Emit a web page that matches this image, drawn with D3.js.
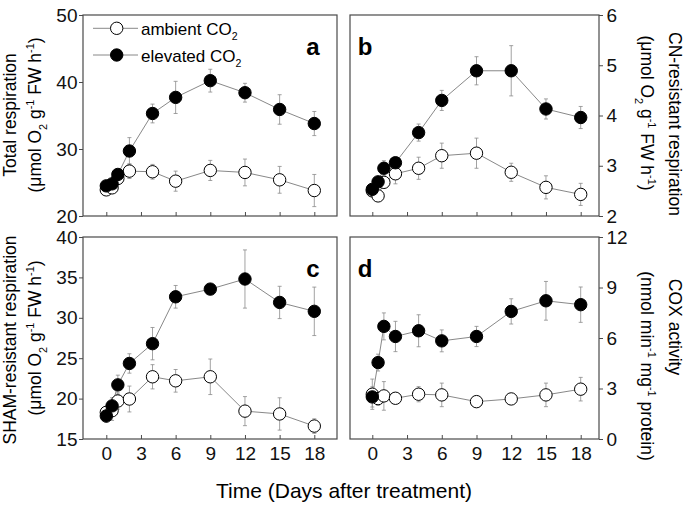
<!DOCTYPE html>
<html><head><meta charset="utf-8">
<script src="https://cdn.jsdelivr.net/npm/d3@7"></script>
<style>
html,body{margin:0;padding:0;background:#fff;}
svg{display:block;font-family:"Liberation Sans",Arial,sans-serif;}
</style></head>
<body>
<svg id="chart" width="685" height="508"></svg>
<script>
// ---------- data ----------
const days = [0, 0.5, 1, 2, 4, 6, 9, 12, 15, 18];
const xTicks = [0, 3, 6, 9, 12, 15, 18];

const totalAmb     = [23.9, 24.2, 25.6, 26.7, 26.6, 25.2, 26.8, 26.5, 25.4, 23.8];
const totalAmbErr  = [0.5, 0.6, 0.6, 1.1, 1.1, 1.5, 1.5, 2.0, 2.0, 2.4];
const totalElev    = [24.5, 24.8, 26.2, 29.7, 35.3, 37.7, 40.2, 38.4, 35.9, 33.8];
const totalElevErr = [0.5, 0.5, 0.6, 2.0, 1.4, 2.4, 1.7, 1.4, 2.2, 1.8];
const totalTicks   = [20, 30, 40, 50];

const cnAmb     = [2.5, 2.40, 2.67, 2.84, 2.95, 3.20, 3.25, 2.87, 2.57, 2.43];
const cnAmbErr  = [0.08, 0.1, 0.1, 0.2, 0.22, 0.25, 0.3, 0.18, 0.23, 0.22];
const cnElev    = [2.53, 2.68, 2.95, 3.06, 3.66, 4.30, 4.89, 4.89, 4.13, 3.96];
const cnElevErr = [0.05, 0.08, 0.15, 0.1, 0.17, 0.2, 0.28, 0.5, 0.2, 0.22];
const cnTicks   = [2, 3, 4, 5, 6];

const shamAmb     = [18.3, 18.5, 19.7, 19.95, 22.7, 22.2, 22.7, 18.45, 18.1, 16.6];
const shamAmbErr  = [0.6, 1.2, 1.0, 1.6, 1.5, 1.4, 2.2, 1.8, 2.0, 0.9];
const shamElev    = [17.85, 19.1, 21.7, 24.35, 26.8, 32.6, 33.55, 34.8, 31.9, 30.8];
const shamElevErr = [0.8, 1.0, 1.2, 1.2, 2.0, 1.4, 0.6, 3.6, 2.0, 3.0];
const shamTicks   = [15, 20, 25, 30, 35, 40];

const coxAmb     = [2.66, 2.4, 2.56, 2.42, 2.66, 2.62, 2.22, 2.38, 2.62, 2.96];
const coxAmbErr  = [0.9, 0.4, 0.85, 0.3, 0.45, 0.7, 0.3, 0.3, 0.7, 0.7];
const coxElev    = [2.5, 4.54, 6.69, 6.09, 6.43, 5.83, 6.09, 7.58, 8.21, 7.98];
const coxElevErr = [0.6, 0.5, 0.8, 0.9, 0.95, 0.65, 0.6, 0.75, 1.15, 1.05];
const coxTicks   = [0, 3, 6, 9, 12];

const seriesNames = ["ambient CO", "elevated CO"];

// ---------- layout ----------
const svg = d3.select("#chart");
const FONT_TICK = 19, FONT_YLAB = 17.5;
const cols = [
  {fx0: 83, fx1: 337, t0: 106.3, t18: 314.3},
  {fx0: 350, fx1: 599, t0: 372.3, t18: 580.7}
];
const rows = [{fy0: 15, fy1: 216}, {fy0: 237, fy1: 439}];

function rich(textSel, parts, fs) {
  let shift = 0;
  parts.forEach(p => {
    const target = p[1] === "sub" ? fs * 0.32 : p[1] === "sup" ? -fs * 0.42 : 0;
    textSel.append("tspan")
      .attr("dy", target - shift)
      .attr("font-size", p[1] ? fs * 0.62 : fs)
      .text(p[0]);
    shift = target;
  });
}

const umolParts = [["(\u03bcmol O"], ["2", "sub"], [" g"], ["-1", "sup"], [" FW h"], ["-1", "sup"], [")"]];

const panels = [
  {col: 0, row: 0, dom: [20, 50], ticks: totalTicks, amb: totalAmb, ambE: totalAmbErr, el: totalElev, elE: totalElevErr,
   letter: "a", side: "left", lab1: [["Total respiration"]], lab2: umolParts, c1: 115, c2: 115, showX: false},
  {col: 1, row: 0, dom: [2, 6], ticks: cnTicks, amb: cnAmb, ambE: cnAmbErr, el: cnElev, elE: cnElevErr,
   letter: "b", side: "right", lab1: [["CN-resistant respiration"]], lab2: umolParts, c1: 124, c2: 113, showX: false},
  {col: 0, row: 1, dom: [15, 40], ticks: shamTicks, amb: shamAmb, ambE: shamAmbErr, el: shamElev, elE: shamElevErr,
   letter: "c", side: "left", lab1: [["SHAM-resistant respiration"]], lab2: umolParts, c1: 340, c2: 338, showX: true},
  {col: 1, row: 1, dom: [0, 12], ticks: coxTicks, amb: coxAmb, ambE: coxAmbErr, el: coxElev, elE: coxElevErr,
   letter: "d", side: "right", lab1: [["COX activity"]],
   lab2: [["(nmol min"], ["-1", "sup"], [" mg"], ["-1", "sup"], [" protein)"]], c1: 327, c2: 366, showX: true}
];

const LINE = "#7a7a7a", FRAME = "#4a4a4a", R = 6.2;

panels.forEach(p => {
  const C = cols[p.col], Rw = rows[p.row];
  const x = d3.scaleLinear().domain([0, 18]).range([C.t0, C.t18]);
  const y = d3.scaleLinear().domain(p.dom).range([Rw.fy1, Rw.fy0]);
  const g = svg.append("g");

  // y axis
  const yAx = (p.side === "left" ? d3.axisLeft(y).tickPadding(1.5) : d3.axisRight(y).tickPadding(3.5))
    .tickValues(p.ticks).tickSize(4).tickFormat(d3.format("d"));
  const ya = g.append("g")
    .attr("transform", `translate(${p.side === "left" ? C.fx0 : C.fx1},0)`)
    .call(yAx);
  ya.select(".domain").remove();
  ya.selectAll("line").attr("stroke", FRAME);
  ya.selectAll("text").attr("font-size", FONT_TICK).attr("font-family", null).attr("fill", "#111");

  // x axis (ticks inward)
  const xAx = d3.axisBottom(x).tickValues(xTicks).tickSize(-4).tickPadding(8)
    .tickFormat(p.showX ? d3.format("d") : () => "");
  const xa = g.append("g").attr("transform", `translate(0,${Rw.fy1})`).call(xAx);
  xa.select(".domain").remove();
  xa.selectAll("line").attr("stroke", FRAME);
  xa.selectAll("text").attr("font-size", FONT_TICK).attr("font-family", null).attr("fill", "#111");

  // frame
  g.append("rect").attr("x", C.fx0).attr("y", Rw.fy0)
    .attr("width", C.fx1 - C.fx0).attr("height", Rw.fy1 - Rw.fy0)
    .attr("fill", "none").attr("stroke", FRAME).attr("stroke-width", 1.2);

  const series = [
    {v: p.amb, e: p.ambE, fill: "#fff"},
    {v: p.el, e: p.elE, fill: "#000"}
  ];
  const line = d3.line().x((d, i) => x(days[i])).y(d => y(d));
  series.forEach(s => {
    g.append("path").datum(s.v).attr("d", line)
      .attr("fill", "none").attr("stroke", LINE).attr("stroke-width", 0.9);
  });
  series.forEach(s => {
    const eb = g.append("g").attr("stroke", "#8a8a8a").attr("stroke-width", 0.8);
    s.v.forEach((v, i) => {
      const cx = x(days[i]);
      eb.append("line").attr("x1", cx).attr("x2", cx).attr("y1", y(v - s.e[i])).attr("y2", y(v + s.e[i]));
      [v - s.e[i], v + s.e[i]].forEach(w => {
        eb.append("line").attr("x1", cx - 2).attr("x2", cx + 2).attr("y1", y(w)).attr("y2", y(w));
      });
    });
  });
  series.forEach(s => {
    g.append("g").selectAll("circle").data(s.v).join("circle")
      .attr("cx", (d, i) => x(days[i])).attr("cy", d => y(d)).attr("r", R)
      .attr("fill", s.fill).attr("stroke", "#000").attr("stroke-width", 1);
  });

  // panel letter
  const lx = p.col === 0 ? C.fx1 - 24 : C.fx0 + 15;
  g.append("text").attr("x", lx).attr("y", Rw.fy0 + 40)
    .attr("font-size", 24).attr("font-weight", "bold").attr("text-anchor", "middle").text(p.letter);

  // axis titles
  if (p.side === "left") {
    const t1 = g.append("text").attr("transform", `translate(16,${p.c1}) rotate(-90)`)
      .attr("text-anchor", "middle").attr("dy", "0.35em");
    rich(t1, p.lab1, FONT_YLAB);
    const t2 = g.append("text").attr("transform", `translate(41,${p.c2}) rotate(-90)`)
      .attr("text-anchor", "middle").attr("dy", "0.35em");
    rich(t2, p.lab2, FONT_YLAB);
  } else {
    const t1 = g.append("text").attr("transform", `translate(669,${p.c1}) rotate(90)`)
      .attr("text-anchor", "middle").attr("dy", "0.35em");
    rich(t1, p.lab1, FONT_YLAB);
    const t2 = g.append("text").attr("transform", `translate(641,${p.c2}) rotate(90)`)
      .attr("text-anchor", "middle").attr("dy", "0.35em");
    rich(t2, p.lab2, FONT_YLAB);
  }
});

// legend (panel a)
const leg = svg.append("g");
[["#fff", 28.3, 35], ["#000", 55, 61.7]].forEach((d, i) => {
  leg.append("line").attr("x1", 93).attr("x2", 138).attr("y1", d[1]).attr("y2", d[1])
    .attr("stroke", LINE).attr("stroke-width", 0.9);
  leg.append("circle").attr("cx", 116.7).attr("cy", d[1]).attr("r", R)
    .attr("fill", d[0]).attr("stroke", "#000").attr("stroke-width", 1);
  const t = leg.append("text").attr("x", 141).attr("y", d[2]);
  rich(t, [[seriesNames[i]], ["2", "sub"]], 17);
});

// x title
svg.append("text").attr("x", 344).attr("y", 498).attr("text-anchor", "middle")
  .attr("font-size", 21).text("Time (Days after treatment)");
</script>
</body></html>
